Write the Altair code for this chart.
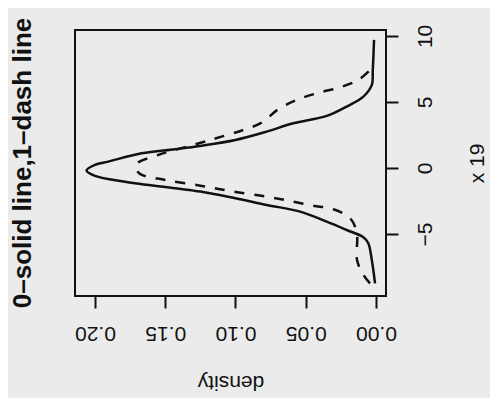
import altair as alt
import pandas as pd

# solid line (group 0): x value, density
solid_x = [-8.74, -6.97, -5.7, -5.25, -4.7, -4.07, -3.31, -2.8, -2.3, -1.79, -1.54, -1.04,
           -0.6, -0.2, 0.23, 0.48, 1.11, 1.42, 1.67, 2.12, 2.75, 3.38, 3.94, 4.65, 5.4,
           6.29, 7.42, 9.7]
solid_d = [0.0007, 0.003, 0.0055, 0.009, 0.0209, 0.0351, 0.054, 0.0778, 0.1, 0.125, 0.143,
           0.1786, 0.2, 0.206, 0.2, 0.1905, 0.1668, 0.143, 0.1253, 0.1, 0.0778, 0.0589,
           0.0351, 0.0209, 0.009, 0.003, 0.0023, 0.0014]

# dashed line (group 1)
dash_x = [-8.74, -8.1, -6.97, -4.9, -3.8, -3.13, -2.85, -2.55, -2.17, -1.79, -1.36, -0.91,
          -0.45, 0.0, 0.35, 0.98, 1.87, 2.37, 2.88, 3.43, 4.45, 5.15, 5.66, 6.11, 6.67, 7.55]
dash_d = [0.0043, 0.009, 0.0135, 0.0137, 0.0185, 0.0304, 0.045, 0.0589, 0.0778, 0.1016,
          0.124, 0.150, 0.168, 0.1708, 0.170, 0.155, 0.126, 0.11, 0.0944, 0.0814, 0.0695,
          0.0564, 0.0422, 0.0256, 0.0126, 0.003]

density_ticks = [0.0, 0.05, 0.10, 0.15, 0.20]
x_ticks = [-5, 0, 5, 10]

solid = pd.DataFrame({"xv": solid_x, "d": solid_d})
dash = pd.DataFrame({"xv": dash_x, "d": dash_d})

FONT = "Liberation Sans"
BG = "#ebebeb"
INK = "#111111"
FS = 21

xenc = alt.X("d:Q",
             scale=alt.Scale(domain=[-0.0071, 0.2142], reverse=True, nice=False, zero=False),
             axis=alt.Axis(values=density_ticks, format=".2f", grid=False, domain=False,
                           orient="bottom", labelAngle=180, labelAlign="center",
                           labelBaseline="middle", labelPadding=24, tickSize=12,
                           tickWidth=2, tickColor=INK, labelFontSize=FS, labelFont=FONT,
                           labelColor=INK, title="density", titleAngle=180,
                           titleFontSize=FS, titleFont=FONT, titleFontWeight="normal",
                           titleColor=INK, titleBaseline="middle", titleAlign="center",
                           titleX=155.5, titleY=85))
yenc = alt.Y("xv:Q",
             scale=alt.Scale(domain=[-9.7, 10.45], nice=False, zero=False),
             axis=alt.Axis(values=x_ticks, grid=False, domain=False, orient="right",
                           labelAngle=270, labelAlign="center", labelBaseline="middle",
                           labelPadding=27, tickSize=12, tickWidth=2, tickColor=INK,
                           labelFontSize=FS, labelFont=FONT, labelColor=INK,
                           title="x 19", titleAngle=270, titleFontSize=FS, titleFont=FONT,
                           titleFontWeight="normal", titleColor=INK, titleBaseline="middle",
                           titleAlign="center", titleX=91, titleY=133))

solid_line = alt.Chart(solid).mark_line(color=INK, strokeWidth=2.5,
                                        interpolate="catmull-rom").encode(
    x=xenc, y=yenc, order="xv:Q")
dash_line = alt.Chart(dash).mark_line(color=INK, strokeWidth=2.5, strokeDash=[10, 10],
                                      interpolate="catmull-rom").encode(
    x=xenc, y=yenc, order="xv:Q")

chart = alt.layer(solid_line, dash_line).properties(
    width=311, height=266,
    autosize=alt.AutoSizeParams(type="none"),
    padding={"left": 67, "top": 22, "right": 104, "bottom": 102},
    background=BG,
    title=alt.TitleParams(text="0–solid line,1–dash line", orient="left", anchor="middle",
                          fontSize=26, font=FONT, fontWeight="bold", color=INK,
                          baseline="alphabetic", offset=18),
).configure_view(stroke=INK, strokeWidth=2, fill=BG)

chart.save("out.html", embed_options={"renderer": "svg", "actions": False})
